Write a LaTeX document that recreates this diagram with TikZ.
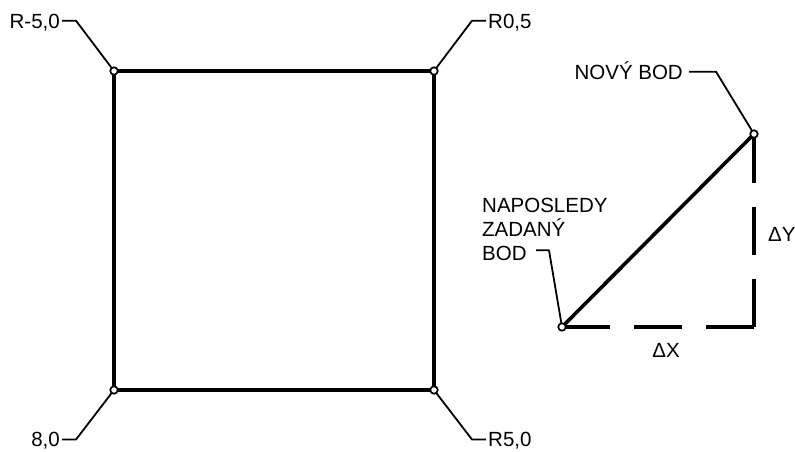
\documentclass[tikz,border=0pt]{standalone}
\usepackage{fontspec}
\setmainfont{Liberation Sans}
\usepackage{tikz}
\newcommand\popis{\fontsize{20.5}{24}\selectfont}

\begin{document}
\begin{tikzpicture}[x=1pt,y=-1pt,line join=round,
	bod/.style={circle,draw,fill=white,line width=1.7pt,inner sep=0pt,minimum size=7.5pt},
	hrana/.style={line width=3.6pt},
	carky/.style={line width=3.6pt,dash pattern=on 48pt off 24pt},
	odkaz/.style={line width=1.8pt},
	popis/.style={font=\popis,inner xsep=2pt,inner ysep=0pt,text height=14.6pt,text depth=0pt}]
	\useasboundingbox (0,0) rectangle (795,451);
	\coordinate (A) at (114,71);
	\coordinate (B) at (434,71);
	\coordinate (C) at (114,390);
	\coordinate (D) at (434,390);
	\coordinate (P) at (562,327);
	\coordinate (N) at (754,134);
	\coordinate (K) at (754,327);
	\draw[hrana] (A) -- (B) -- (D) -- (C) -- cycle;
	\draw[hrana] (P) -- (N);
	\draw[carky] (P) -- (K);
	\draw[carky] (K) -- (N);
	\node[popis,anchor=east] (tA) at (62,20.7) {R-5,0};
	\node[popis,anchor=west] (tB) at (486,20.7) {R0,5};
	\node[popis,anchor=east] (tC) at (62,439.5) {8,0};
	\node[popis,anchor=west] (tD) at (486,439.5) {R5,0};
	\node[popis,anchor=east,inner xsep=6pt] (tN) at (689,71.7) {NOVÝ BOD};
	\node[popis,anchor=west] (tY) at (766,234) {ΔY};
	\node[popis] (tX) at (666,350) {ΔX};
	\node[font=\popis,align=left,inner sep=0pt,anchor=north west] (tP) at (482,198.3) {NAPOSLEDY\\ZADANÝ\\BOD};
	\coordinate (kP) at (536,250.3);
	\draw[odkaz] (tA.east) -- ++(14,0) -- (A);
	\draw[odkaz] (tB.west) -- ++(-14,0) -- (B);
	\draw[odkaz] (tC.east) -- ++(14,0) -- (C);
	\draw[odkaz] (tD.west) -- ++(-14,0) -- (D);
	\draw[odkaz] (tN.east) -- ++(27,0) -- (N);
	\draw[odkaz] (kP) -- ++(13,0) -- (P);
	\foreach \c in {A,B,C,D,P,N}
		\node[bod] (b\c) at (\c) {};
\end{tikzpicture}
\end{document}
